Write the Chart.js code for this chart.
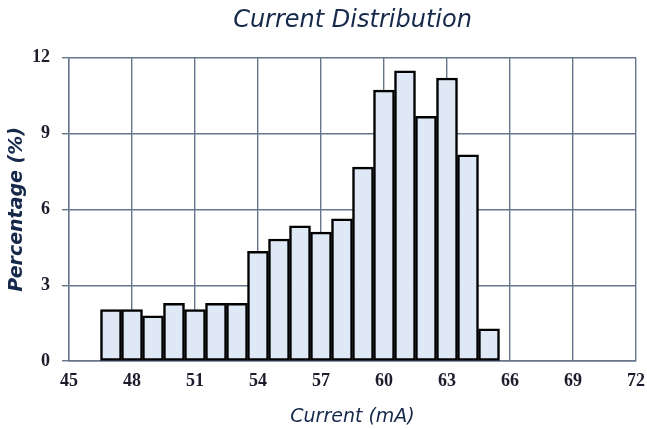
<!DOCTYPE html>
<html>
<head>
<meta charset="utf-8">
<script src="https://cdn.jsdelivr.net/npm/chart.js@4"></script>
<style>
  body { margin: 0; background: #ffffff; }
  #wrap { width: 647px; height: 429px; position: relative; }
</style>
</head>
<body>
<div id="wrap"><canvas id="histChart"></canvas></div>
<script>
// bin centers (mA) and percentage of parts in each bin
const binCenters = [47, 48, 49, 50, 51, 52, 53, 54, 55, 56, 57, 58, 59, 60, 61, 62, 63, 64, 65];
const percentages = [2.04, 2.04, 1.79, 2.28, 2.04, 2.28, 2.28, 4.34, 4.83, 5.35, 5.10, 5.63, 7.67, 10.72, 11.48, 9.68, 11.2, 8.16, 1.27];

// axis ranges / tick steps
const xRange = [45, 72];
const xStep = 3;
const yRange = [0, 12];
const yStep = 3;

const navy = "#16294a";
const gridColor = "#66758c";

const ctx = document.getElementById("histChart").getContext("2d");
new Chart(ctx, {
  type: "bar",
  data: {
    datasets: [
      {
        label: "Percentage",
        data: binCenters.map((x, i) => ({ x: x, y: percentages[i] })),
        backgroundColor: "#dee9f5",
        borderColor: "#000000",
        borderWidth: 2.5,
        borderSkipped: false,
        barPercentage: 1,
        categoryPercentage: 1,
      },
    ],
  },
  options: {
    responsive: true,
    maintainAspectRatio: false,
    animation: false,
    layout: { padding: { top: 0, right: 11, bottom: 0, left: 0 } },
    plugins: {
      legend: { display: false },
      tooltip: { enabled: false },
      title: {
        display: true,
        text: "Current Distribution",
        fullSize: false,
        color: navy,
        font: { family: "'DejaVu Sans', sans-serif", style: "italic", weight: "normal", size: 24, lineHeight: 1.2 },
        padding: { top: 6, bottom: 23 },
      },
    },
    scales: {
      x: {
        type: "linear",
        offset: false,
        min: xRange[0],
        max: xRange[1],
        ticks: {
          stepSize: xStep,
          color: "#1c1c2c",
          padding: 10,
          font: { family: "'Liberation Serif', serif", weight: "bold", size: 18 },
        },
        grid: { offset: false, color: gridColor, lineWidth: 1.4, drawTicks: false },
        border: { color: gridColor, width: 1.4 },
        title: {
          display: true,
          text: "Current (mA)",
          color: navy,
          font: { family: "'DejaVu Sans', sans-serif", style: "italic", weight: "normal", size: 19 },
          padding: { top: 0, bottom: 1 },
        },
        afterFit: (scale) => {
          scale.height = 68;
          scale.paddingLeft = 0;
          scale.paddingRight = 0;
        },
      },
      y: {
        min: yRange[0],
        max: yRange[1],
        ticks: {
          stepSize: yStep,
          color: "#1c1c2c",
          padding: 12,
          font: { family: "'Liberation Serif', serif", weight: "bold", size: 18 },
        },
        grid: { color: gridColor, lineWidth: 1.4, tickLength: 7 },
        border: { color: gridColor, width: 1.4 },
        title: {
          display: true,
          text: "Percentage (%)",
          color: navy,
          font: { family: "'DejaVu Sans', sans-serif", style: "italic", weight: "bold", size: 19 },
          padding: { top: 6, bottom: 0 },
        },
        afterFit: (scale) => { scale.width = 69; },
      },
    },
  },
});
</script>
</body>
</html>
